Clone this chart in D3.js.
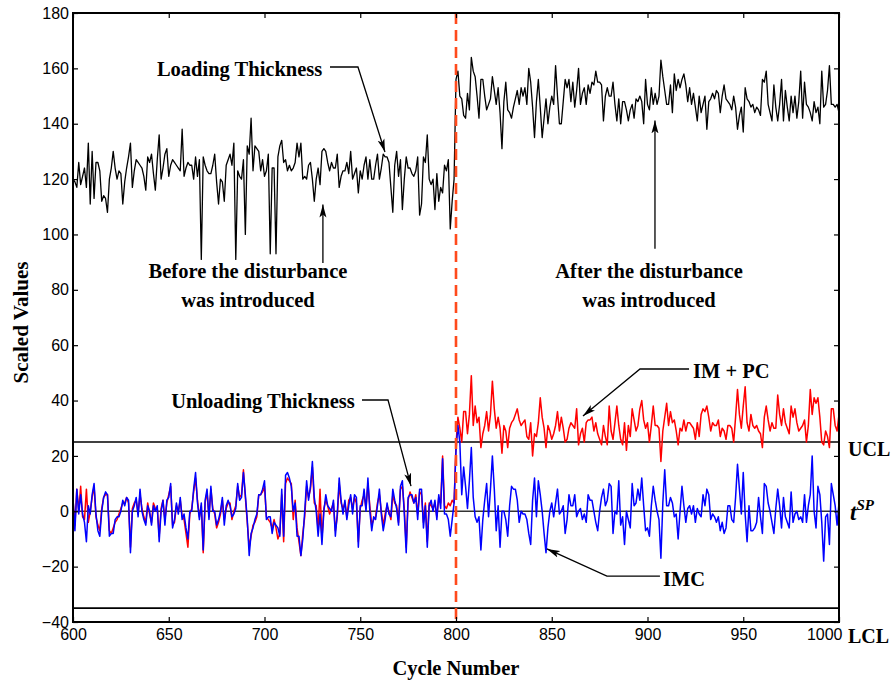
<!DOCTYPE html>
<html>
<head>
<meta charset="utf-8">
<script src="https://cdn.jsdelivr.net/npm/d3@7.9.0/dist/d3.min.js"></script>
<style>
  body { margin: 0; background: #fff; }
  svg text { font-family: "Liberation Sans", Arial, sans-serif; }
</style>
</head>
<body>
<svg id="chart" width="893" height="684"></svg>
<script>
// values, one per cycle from 600 to 1000
const firstCycle = 600;

const loading = [
  120,119,117,126,118,121,124,117,133,111,
  130,113,126,126,123,112,114,113,108,120,
  124,130,124,120,123,122,111,119,124,128,
  133,117,123,127,126,125,124,121,116,128,
  126,129,122,116,127,136,120,124,129,131,
  121,125,127,126,125,124,123,138,121,124,
  126,125,125,120,128,121,127,91,128,125,
  123,122,122,125,129,119,111,120,119,112,
  125,127,129,125,133,91,123,121,120,127,
  100,132,129,142,123,132,131,130,123,127,
  121,123,129,93,124,124,93,128,132,134,
  126,127,123,125,123,124,126,133,128,133,
  120,121,120,125,126,120,112,120,124,118,
  130,131,130,126,123,126,124,124,129,117,
  121,123,123,126,122,130,120,122,124,115,
  123,120,125,128,120,127,120,120,125,129,
  120,124,129,128,128,126,117,108,125,130,
  121,127,109,120,128,124,124,122,121,123,
  128,107,111,128,126,136,120,118,120,109,
  122,112,117,115,125,123,127,102,112,120,
  156,159,150,149,143,142,151,145,164,159,
  157,150,142,156,156,150,145,147,149,157,
  152,147,153,144,131,148,155,145,144,142,
  146,149,152,147,153,150,153,147,160,155,
  146,135,148,156,146,135,142,149,140,146,
  150,147,161,150,140,140,148,156,153,156,
  148,155,146,152,160,147,151,153,147,154,
  151,155,154,159,155,155,154,141,150,153,
  150,150,155,147,141,149,140,148,148,145,
  141,145,147,142,149,148,150,148,140,156,
  147,145,153,147,151,147,150,163,157,152,
  147,147,154,144,158,152,156,153,156,158,
  154,148,153,147,151,146,141,150,144,147,
  150,138,148,149,151,149,152,151,144,150,
  154,149,148,147,145,150,146,138,143,146,
  137,153,149,148,146,147,144,146,145,143,
  156,155,159,147,144,141,154,146,141,147,
  156,141,152,146,141,150,144,150,142,148,
  159,142,155,147,146,144,141,148,144,146,
  140,159,146,147,152,161,147,147,146,147,
  144
];

// IM + PC (red)
const impc = [
  4,-5,8,0,9,-2,-3,8,-4,0,
  5,9,-2,-5,-7,1,5,6,6,-7,
  -8,-6,-4,-3,-1,1,3,3,5,3,
  -13,1,3,4,-1,6,1,-2,-4,3,
  -1,-4,3,1,1,-9,1,4,-3,3,
  6,9,-5,-4,2,0,4,-2,-3,-8,
  -13,-1,1,7,12,4,-2,2,-15,3,
  7,-2,8,1,-1,-6,-4,-1,4,-3,
  1,3,3,-3,0,2,9,5,6,15,
  5,-4,-13,-9,-5,-4,-2,6,6,7,
  9,-2,-3,-4,-6,-3,-6,-10,-8,6,
  -11,10,12,11,10,-3,4,-6,-11,-16,
  -8,-2,9,5,8,16,3,2,-7,8,
  -10,1,4,2,-1,1,3,-7,-2,10,
  3,1,3,-2,4,5,1,5,3,-11,
  1,4,6,1,10,2,-5,-3,-2,3,
  6,0,-5,-1,2,0,-3,6,3,2,
  -4,8,9,1,-13,4,7,5,3,6,
  -1,7,6,-4,3,-11,3,2,1,3,
  -2,5,3,20,2,1,3,2,4,3,
  24,34,30,25,36,36,28,35,49,31,
  38,32,34,23,28,31,36,29,35,47,
  37,30,34,30,21,31,29,23,30,32,
  33,35,37,33,31,32,33,27,26,32,
  20,28,27,32,41,34,30,23,31,29,
  26,28,31,36,29,34,30,25,26,30,
  32,31,30,37,24,28,30,25,32,33,
  33,34,29,32,28,26,24,31,27,24,
  38,29,26,32,38,31,26,24,32,22,
  31,27,37,33,29,31,37,40,33,30,
  32,25,31,38,31,31,30,18,29,34,
  39,31,36,32,33,29,24,30,29,33,
  29,32,32,31,30,26,32,27,35,37,
  36,38,34,29,32,31,31,33,27,30,
  29,26,31,31,30,25,34,44,35,30,
  38,45,32,29,35,31,30,31,29,28,
  23,34,38,33,29,32,30,30,42,35,
  31,37,32,30,28,38,34,37,32,29,
  30,31,33,25,31,44,35,41,39,41,
  34,25,24,29,27,23,37,37,31,29,
  35
];

// IMC (blue)
const imc = [
  5,-7,8,-1,6,-1,-4,-11,2,-1,
  6,10,-1,-7,-9,0,5,7,6,-9,
  -8,-8,-3,-2,-2,0,4,2,5,4,
  -15,0,2,5,-2,8,0,-3,-5,2,
  0,-5,2,0,2,-11,0,4,-5,4,
  5,10,-6,-3,3,-1,5,-3,-1,-6,
  -10,0,0,8,14,3,-3,3,-14,4,
  8,-3,9,0,0,-5,-3,0,5,-5,
  2,4,2,-2,-1,1,10,4,5,14,
  6,-3,-16,-8,-6,-3,-1,6,6,8,
  11,-3,-2,-2,-8,-4,-5,-6,-9,8,
  -9,13,14,12,9,0,3,-9,-9,-16,
  -10,0,11,4,9,18,5,0,-9,-1,
  -12,0,6,2,1,0,4,-9,-1,12,
  4,-1,4,-3,2,6,-1,6,5,-13,
  2,2,8,0,12,0,-7,-2,-3,2,
  8,-1,-7,-3,3,-1,-2,8,4,1,
  -5,9,11,-1,-15,5,6,6,3,5,
  -3,8,8,-6,2,-13,2,4,0,4,
  -3,6,1,19,-1,-1,-3,-9,-3,3,
  22,31,25,6,16,9,1,11,23,5,
  -2,-4,-2,-14,-3,4,10,-2,8,20,
  8,-7,2,-13,0,0,-3,-9,2,9,
  8,8,4,-4,0,-1,-1,-3,-8,-12,
  4,12,-2,11,6,0,-8,-15,-6,0,
  3,-2,3,8,-1,0,2,-8,-3,6,
  2,2,6,-2,0,1,-3,-1,-4,6,
  4,4,0,-4,-7,0,5,8,2,4,
  10,9,-8,0,-1,11,-5,-2,-12,0,
  -3,-6,10,2,3,8,4,12,2,-7,
  -6,-9,2,9,4,0,-3,-17,3,15,
  2,2,5,3,-2,-1,-10,0,9,2,
  -4,1,2,-1,2,-4,1,-1,-2,6,
  2,8,6,-3,-1,-2,-4,-2,-7,-4,
  -8,-6,2,2,-3,-4,5,17,8,-1,
  14,-1,-11,2,-7,-7,-6,-4,5,-2,
  -8,10,9,3,0,-4,-8,1,8,2,
  -6,5,-2,-4,-6,7,-4,-1,0,-3,
  -2,-4,6,-4,2,6,20,0,-6,9,
  6,-4,-18,-2,-1,-12,10,6,2,-5,
  3
];

const xTicks = [600, 650, 700, 750, 800, 850, 900, 950, 1000];
const yTicks = [-40, -20, 0, 20, 40, 60, 80, 100, 120, 140, 160, 180];
const ucl = 25;
const lcl = -35;
const tsp = 0;
const disturbance = 800;

const svg = d3.select('#chart');
const plotLeft = 73, plotRight = 839, plotTop = 13, plotBottom = 622;

let x = d3.scaleLinear().domain([600, 1000]).range([plotLeft, plotRight]);
let y = d3.scaleLinear().domain([-40, 180]).range([plotBottom, plotTop]);

svg.append('defs').append('marker')
  .attr('id', 'head')
  .attr('markerUnits', 'userSpaceOnUse')
  .attr('markerWidth', 14).attr('markerHeight', 8)
  .attr('refX', 13).attr('refY', 4)
  .attr('orient', 'auto')
  .append('path')
  .attr('d', 'M0,0.5 L13,4 L0,7.5 L3,4 Z')
  .attr('fill', '#000');

// control limits and target
let limits = svg.append('g');
[ucl, lcl].forEach(v => {
  limits.append('line')
    .attr('x1', x(600)).attr('x2', x(1000))
    .attr('y1', y(v)).attr('y2', y(v))
    .attr('stroke', '#000').attr('stroke-width', 1.6);
});
limits.append('line')
  .attr('x1', x(600)).attr('x2', x(1000))
  .attr('y1', y(tsp)).attr('y2', y(tsp))
  .attr('stroke', '#333').attr('stroke-width', 1.3);

// series
let line = d3.line()
  .x((d, i) => x(firstCycle + i))
  .y(d => y(d));

svg.append('path').datum(loading)
  .attr('d', line).attr('fill', 'none')
  .attr('stroke', '#000').attr('stroke-width', 1.3)
  .attr('stroke-linejoin', 'round');
svg.append('path').datum(impc)
  .attr('d', line).attr('fill', 'none')
  .attr('stroke', '#ff0000').attr('stroke-width', 1.5)
  .attr('stroke-linejoin', 'round');
svg.append('path').datum(imc)
  .attr('d', line).attr('fill', 'none')
  .attr('stroke', '#0000ff').attr('stroke-width', 1.5)
  .attr('stroke-linejoin', 'round');

// disturbance marker
svg.append('line')
  .attr('x1', x(disturbance)).attr('x2', x(disturbance))
  .attr('y1', y(180)).attr('y2', y(-40))
  .attr('stroke', '#ff4a1c').attr('stroke-width', 2.6)
  .attr('stroke-dasharray', '11,6');

// axes, ticks inward on all four sides
function styleTicks(g) {
  g.select('.domain').remove();
  g.selectAll('.tick line').attr('stroke', '#000').attr('stroke-width', 1.2);
  g.selectAll('.tick text')
    .attr('font-size', 16)
    .attr('fill', '#000')
    .attr('font-family', '"Liberation Sans", Arial, sans-serif');
}
let xAxis = svg.append('g').attr('transform', `translate(0,${plotBottom})`)
  .call(d3.axisBottom(x).tickValues(xTicks).tickSize(-5).tickPadding(7).tickFormat(d3.format('d')))
  .call(styleTicks);
// last label sits left of the corner so it clears "LCL"
xAxis.selectAll('.tick text').filter(d => d === 1000)
  .attr('text-anchor', 'end').attr('x', 3);
svg.append('g').attr('transform', `translate(0,${plotTop})`)
  .call(d3.axisTop(x).tickValues(xTicks).tickSize(-5).tickFormat(''))
  .call(styleTicks);
svg.append('g').attr('transform', `translate(${plotLeft},0)`)
  .call(d3.axisLeft(y).tickValues(yTicks).tickSize(-5).tickPadding(4).tickFormat(d3.format('d')))
  .call(styleTicks);
svg.append('g').attr('transform', `translate(${plotRight},0)`)
  .call(d3.axisRight(y).tickValues(yTicks).tickSize(-5).tickFormat(''))
  .call(styleTicks);

svg.append('rect')
  .attr('x', plotLeft).attr('y', plotTop)
  .attr('width', plotRight - plotLeft).attr('height', plotBottom - plotTop)
  .attr('fill', 'none').attr('stroke', '#000').attr('stroke-width', 2);

// bold serif labels
function label(px, py, str, anchor, size) {
  return svg.append('text')
    .attr('x', px).attr('y', py)
    .attr('text-anchor', anchor || 'middle')
    .style('font-family', '"Liberation Serif", "Times New Roman", serif')
    .style('font-weight', 'bold')
    .style('font-size', (size || 20.5) + 'px')
    .text(str);
}

label((plotLeft + plotRight) / 2, 675, 'Cycle Number', 'middle', 20.5);
svg.append('text')
  .attr('transform', `translate(28,${(plotTop + plotBottom) / 2 + 5}) rotate(-90)`)
  .attr('text-anchor', 'middle')
  .style('font-family', '"Liberation Serif", "Times New Roman", serif')
  .style('font-weight', 'bold')
  .style('font-size', '21px')
  .text('Scaled Values');

// limit labels at the right
label(plotRight + 9, y(ucl) + 14, 'UCL', 'start', 20);
label(plotRight + 9, y(lcl) + 35, 'LCL', 'start', 20);
let tLab = svg.append('text')
  .attr('x', plotRight + 11).attr('y', y(tsp) + 9)
  .style('font-family', '"Liberation Serif", "Times New Roman", serif')
  .style('font-weight', 'bold')
  .style('font-style', 'italic')
  .style('font-size', '23px');
tLab.append('tspan').text('t');
tLab.append('tspan').attr('dy', -10).style('font-size', '15px').text('SP');

// annotations, placed in data units
const notes = [
  { text: ['Loading Thickness'], at: [687, 157.3], path: [[734.2, 160.5], [748.8, 160.5], [762.9, 129.8]] },
  { text: ['Before the disturbance', 'was introduced'], at: [691.4, 84.1], path: [[730.5, 89.7], [730.5, 110.8]] },
  { text: ['After the disturbance', 'was introduced'], at: [900.8, 84.1], path: [[903.9, 94.8], [903.9, 141.2]] },
  { text: ['Unloading Thickness'], at: [699.2, 37.3], path: [[750.9, 40.2], [764.5, 40.2], [776.5, 9.1]] }
];
notes.forEach(n => {
  n.text.forEach((t, i) => label(x(n.at[0]), y(n.at[1]) + i * 29, t));
  svg.append('path')
    .attr('d', d3.line().x(p => x(p[0])).y(p => y(p[1]))(n.path))
    .attr('fill', 'none').attr('stroke', '#000').attr('stroke-width', 1.3)
    .attr('marker-end', 'url(#head)');
});

label(x(923.8), y(48.2), 'IM + PC', 'start');
svg.append('path')
  .attr('d', d3.line().x(p => x(p[0])).y(p => y(p[1]))([[921.7, 51.4], [896.1, 51.4], [866.3, 34.4]]))
  .attr('fill', 'none').attr('stroke', '#000').attr('stroke-width', 1.3)
  .attr('marker-end', 'url(#head)');

label(x(908.1), y(-27), 'IMC', 'start');
svg.append('path')
  .attr('d', d3.line().x(p => x(p[0])).y(p => y(p[1]))([[906.5, -23.4], [878.8, -23.4], [847.5, -13.6]]))
  .attr('fill', 'none').attr('stroke', '#000').attr('stroke-width', 1.3)
  .attr('marker-end', 'url(#head)');
</script>
</body>
</html>
